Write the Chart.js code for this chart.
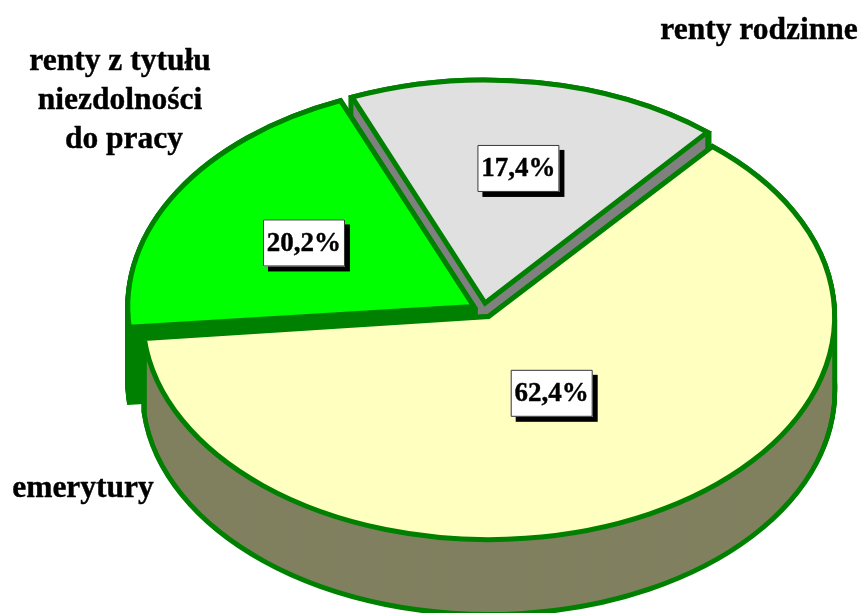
<!DOCTYPE html>
<html><head><meta charset="utf-8">
<script src="https://cdn.jsdelivr.net/npm/chart.js@4"></script>
<style>html,body{margin:0;padding:0;background:#fff}canvas{display:block}</style>
</head><body><canvas id="c" width="864" height="613"></canvas>
<script>
const categories = ['emerytury', 'renty z tytułu niezdolności do pracy', 'renty rodzinne'];
const shares = [62.4, 20.2, 17.4];
const topColors = ['#FFFFC0', '#00FF00', '#E0E0E0'];
const wallColors = ['#808060', '#008000', '#808080'];
const outline = '#008000';
const sliceOffsets = [37, 37, 37];
const boxRadius = [0.39, 0.56, 0.61];
const boxNudge = [[-0.5, 0], [-3, 0], [3, 0]];
const categoryLines = [['emerytury'], ['renty z tytułu', 'niezdolności', 'do pracy'], ['renty rodzinne']];
const categoryAnchors = [[[83, 489]], [[120, 62], [120, 101], [124, 140]], [[759, 31]]];

const view = {cx: 483.4, cy: 310.2, rx: 346, ry: 223, depth: 75, line: 5};

function drawAs(el, ctx, R, over) {
  const saved = el.options;
  const savedR = el.outerRadius;
  const fix = 1 - Math.sin(Math.min(Math.PI, el.circumference));
  el.options = Object.assign({}, saved, over);
  el.outerRadius = R - saved.offset / 4 * fix;
  el.draw(ctx);
  el.options = saved;
  el.outerRadius = savedR;
}

const tiltPlugin = {
  id: 'tilt',
  beforeDatasetsDraw(chart) {
    const ctx = chart.ctx;
    const els = chart.getDatasetMeta(0).data;
    const R = els[0].outerRadius, ox = els[0].x, oy = els[0].y;
    const place = (d, inset) => {
      const sx = (view.rx - inset) / R, sy = (view.ry - inset) / R;
      ctx.setTransform(sx, 0, 0, sy, view.cx - ox * sx, view.cy + d - oy * sy);
    };
    const nativeStroke = ctx.stroke;
    ctx.stroke = function () {
      const m = ctx.getTransform();
      ctx.resetTransform();
      nativeStroke.call(ctx);
      ctx.setTransform(m);
    };
    const wall = (i) => {
      for (let d = view.depth; d >= 0; d--) {
        place(d, 0);
        drawAs(els[i], ctx, R, {backgroundColor: outline, borderColor: outline, borderWidth: view.line});
      }
      for (let d = view.depth; d >= 0; d--) {
        place(d, view.line / 2);
        drawAs(els[i], ctx, R, {backgroundColor: wallColors[i], borderWidth: 0});
      }
    };
    const top = (i) => {
      place(0, 0);
      drawAs(els[i], ctx, R, {borderWidth: view.line});
    };
    ctx.save();
    wall(2); wall(1); top(1); top(2); wall(0); top(0);
    ctx.restore();
    delete ctx.stroke;
    return false;
  },
  afterDraw(chart) {
    const ctx = chart.ctx;
    const els = chart.getDatasetMeta(0).data;
    const R = els[0].outerRadius;
    ctx.save();
    ctx.setTransform(1, 0, 0, 1, 0, 0);
    ctx.textAlign = 'center';
    ctx.textBaseline = 'middle';
    ctx.lineJoin = 'round';
    const heavyText = (t, x, y) => {
      ctx.fillStyle = '#000';
      ctx.strokeStyle = '#000';
      ctx.lineWidth = 0.4;
      ctx.fillText(t, x, y);
      ctx.strokeText(t, x, y);
    };
    ctx.font = 'bold 31.5px "Liberation Serif"';
    categoryLines.forEach((lines, i) => lines.forEach((t, j) => {
      heavyText(t, categoryAnchors[i][j][0], categoryAnchors[i][j][1]);
    }));
    ctx.font = 'bold 27px "Liberation Serif"';
    shares.forEach((v, i) => {
      const el = els[i];
      const mid = (el.startAngle + el.endAngle) / 2 - (0.4 * Math.PI / 180);
      const off = sliceOffsets[i] / 4;
      const wx = Math.cos(mid) * (off + R * boxRadius[i]);
      const wy = Math.sin(mid) * (off + R * boxRadius[i]);
      const x = view.cx + wx * view.rx / R + boxNudge[i][0];
      const y = view.cy + wy * view.ry / R + boxNudge[i][1];
      const w = 82, h = 47;
      ctx.fillStyle = '#000';
      ctx.fillRect(x - w / 2 + 5, y - h / 2 + 5, w, h);
      ctx.fillStyle = '#fff';
      ctx.fillRect(x - w / 2, y - h / 2, w, h);
      ctx.strokeStyle = '#333';
      ctx.lineWidth = 1;
      ctx.strokeRect(x - w / 2 + .5, y - h / 2 + .5, w - 1, h - 1);
      heavyText(v.toFixed(1).replace('.', ',') + '%', x, y + 1);
    });
    ctx.restore();
  }
};

new Chart(document.getElementById('c'), {
  type: 'pie',
  data: {
    labels: categories,
    datasets: [{
      data: shares,
      backgroundColor: topColors,
      borderColor: outline,
      borderWidth: view.line,
      borderJoinStyle: 'miter',
      offset: sliceOffsets
    }]
  },
  options: {
    responsive: false,
    animation: false,
    rotation: 40,
    layout: {padding: 0},
    plugins: {legend: {display: false}, tooltip: {enabled: false}, title: {display: false}}
  },
  plugins: [tiltPlugin]
});
</script></body></html>
